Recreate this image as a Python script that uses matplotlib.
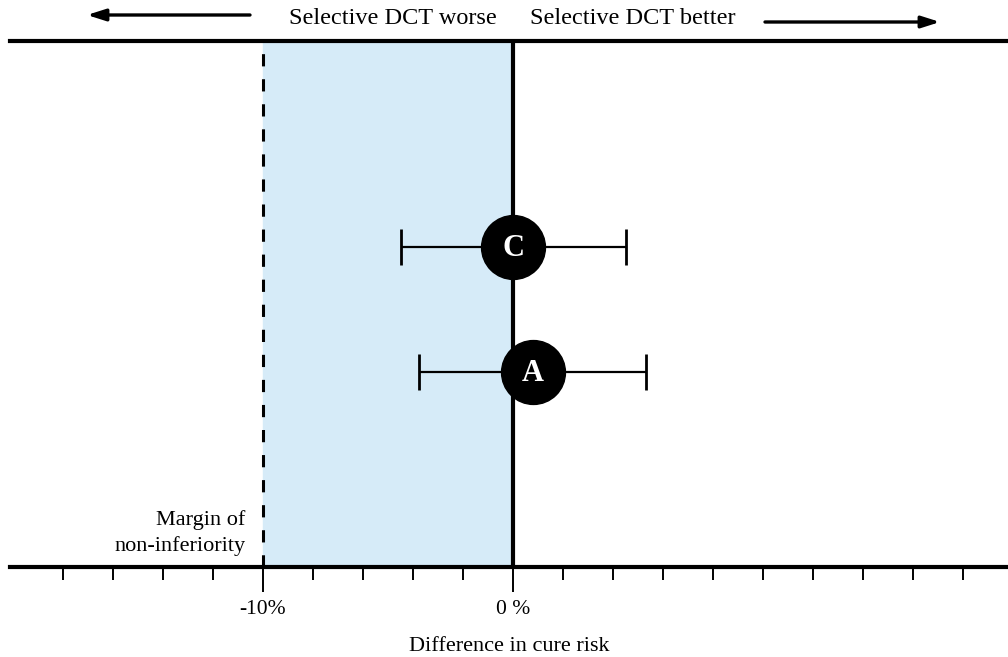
import matplotlib.pyplot as plt
import numpy as np

plt.rcParams['font.family'] = ['Liberation Serif', 'DejaVu Serif']

# trial results: difference in cure risk (%), with 95% CI
labels = ['C', 'A']
estimates = [0.0, 0.8]
ci_low = [-4.5, -3.75]
ci_high = [4.5, 5.3]
rows = [2.56, 1.56]

margin = -10
minor_ticks = np.arange(-18, 19, 2)
major_ticks = [-10, 0]
major_labels = ['-10%', '0 %']

fig = plt.figure(figsize=(10.08, 6.57), dpi=100)
ax = fig.add_axes([10 / 1008, 90 / 657, 998 / 1008, 526 / 657])

ax.set_xlim(-20.12, 19.8)
ax.set_ylim(0, 4.208)

# non-inferiority zone
ax.axvspan(margin, 0, color='#d6ebf8', zorder=0)
ax.axvline(margin, color='black', lw=2.2, ls=(0, (4, 4.2)), zorder=1)
ax.axvline(0, color='black', lw=3, zorder=2)

for lab, est, lo, hi, y in zip(labels, estimates, ci_low, ci_high, rows):
    ax.errorbar(est, y, xerr=[[est - lo], [hi - est]], fmt='none',
                ecolor='black', elinewidth=1.6, capsize=13, capthick=2,
                zorder=3)
    ax.plot(est, y, 'o', ms=46, color='black', zorder=4)
    ax.text(est, y - 0.01, lab, color='white', fontsize=22, fontweight='bold',
            ha='center', va='center', zorder=5)

for s in ['left', 'right']:
    ax.spines[s].set_visible(False)
for s in ['top', 'bottom']:
    ax.spines[s].set_linewidth(3)
ax.set_yticks([])

ax.set_xticks(minor_ticks, minor=True)
ax.set_xticks(major_ticks)
ax.set_xticklabels(major_labels, fontsize=15.5)
ax.tick_params(axis='x', which='minor', length=9, width=1.4, direction='out')
ax.tick_params(axis='x', which='major', length=18, width=1.4, direction='out',
               pad=6)
ax.set_xlabel('Difference in cure risk', fontsize=16, labelpad=13)

ax.text(-10.7, 0.27, 'Margin of\nnon-inferiority', fontsize=16,
        ha='right', va='center', linespacing=1.4)

# direction header
fig.text(497 / 1008, 1 - 19 / 657, 'Selective DCT worse', fontsize=17.5,
         ha='right', va='center')
fig.text(530 / 1008, 1 - 19 / 657, 'Selective DCT better', fontsize=17.5,
         ha='left', va='center')
arrow = dict(arrowstyle='-|>,head_length=1.1,head_width=0.35', color='black',
             lw=2.4, mutation_scale=10, shrinkA=0, shrinkB=0)
ax.annotate('', xy=(87 / 1008, 1 - 15 / 657), xytext=(250 / 1008, 1 - 15 / 657),
            xycoords='figure fraction', textcoords='figure fraction',
            arrowprops=arrow, annotation_clip=False)
ax.annotate('', xy=(940 / 1008, 1 - 22 / 657), xytext=(765 / 1008, 1 - 22 / 657),
            xycoords='figure fraction', textcoords='figure fraction',
            arrowprops=arrow, annotation_clip=False)

fig.savefig('out.png', dpi=100)
